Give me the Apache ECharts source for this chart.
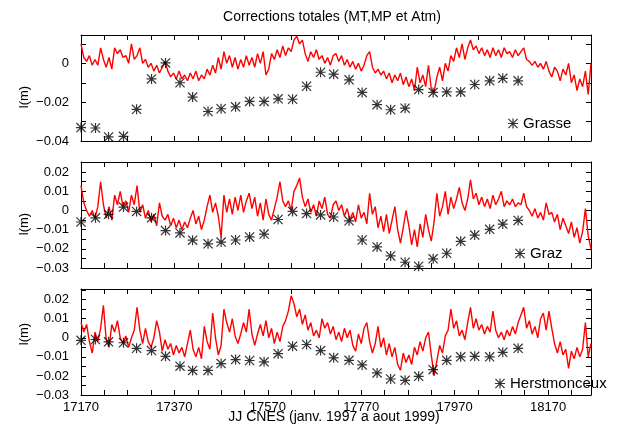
<!DOCTYPE html>
<html>
<head>
<meta charset="utf-8">
<title>Corrections totales (MT,MP et Atm)</title>
<script src="https://cdn.jsdelivr.net/npm/echarts@6/dist/echarts.min.js"></script>
<style>
  html, body { margin: 0; padding: 0; background: #fff; }
  #chart { width: 634px; height: 426px; }
</style>
</head>
<body>
<div id="chart"></div>
<script>
// daily corrections, every 6 days (mm)
const redStart = 17170
const redStep = 6

const grasseRed = [
  10, 3, 1, 4, -1, 2, -1, 8, 2, -2,
  3, -3, 8, 5, 7, 3, 4, 0, 10, 2,
  4, 8, 0, 2, -2, 0, -4, -1, -5, -2,
  1, -4, -7, -5, -8, -4, -8, -6, -9, -5,
  -8, -4, -9, -6, -8, -3, -6, -1, -5, 3,
  -3, 6, 0, 4, -2, 3, -3, 2, -2, 4,
  -1, 3, -2, 5, 0, 6, -6, -3, 5, 2,
  7, 3, 9, 4, 8, 6, 12, 14, 10, 12,
  5, 1, 6, 3, 7, 2, 4, 0, 3, -1,
  4, 5, 1, 4, -1, 2, -2, 1, -3, 0,
  -4, -1, 4, 6, -2, -5, -3, -6, -4, -8,
  -5, -10, -6, -9, -5, -11, -7, -12, -8, -14,
  -2, -10, -6, -12, -1, -13, -15, -7, -2, -9,
  0, -4, 4, 1, 8, 3, 10, 2, 8, 12,
  7, 9, 5, 8, 4, 7, 3, 8, 4, 7,
  3, 8, 5, 6, 3, 7, 4, 6, 8, 2,
  1, -1, 1, -2, 0, -3, 1, -4, -7, -2,
  -4, -9, -3, -6, 0, -10, -6, -14, -8, -12,
  -4, -16, 0
]

const grazRed = [
  13, 4, 0, -3, 0, -4, 2, 15, 3, -4,
  2, -5, 8, 3, 10, 2, 5, -1, 8, 3,
  13, -1, 3, -4, 0, -6, -2, -8, 4, -3,
  -5, -2, -8, -4, -9, -5, -10, -6, -9, -4,
  0, -7, -3, -10, -5, 2, 8, -1, 4, -3,
  -14, 8, -1, 6, -2, 7, 0, 8, -1, 5,
  9, 1, 7, -3, 4, -5, 6, -2, -5, 1,
  7, 15, 5, 2, 5, 0, 10, 13, 17, 7,
  2, 6, -1, 3, -3, 5, 1, 7, -2, -4,
  3, 5, 0, 3, -3, 1, -5, -1, -6, 3,
  -4, -1, -7, 9, -2, 2, -9, -3, -11, -2,
  -12, -5, 2, -10, -17, -9, 0, -8, -18, -10,
  -19, -7, -14, -2, -10, -16, -6, 9, -3, 2,
  10, -2, 7, 1, 6, 12, 4, 0, 6, 16,
  6, 9, 3, 7, 2, 6, 1, 8, 3, 6,
  10, 2, 5, 3, 6, 2, 4, 3, 9, 2,
  0, -3, 1, -4, -1, -5, 4, -2, -1, -6,
  -2, -10, -4, -8, -12, -6, -14, -9, -17, -11,
  1, -13, -20
]

const herstRed = [
  8, 3, 7, -2, -8, 3, -2, 5, 17, -1,
  -5, 7, 3, 9, 0, -3, 1, -5, 0, 4,
  16, 4, -3, 5, -2, -5, 0, 9, 3, -7,
  -1, -6, -3, -9, -4, -8, -5, -10, -3, 4,
  -6, -10, -5, -11, 6, -2, -6, 13, 0, -9,
  -4, 15, 8, 3, 10, 1, -3, 2, 8, 3,
  15, 2, -4, 2, 7, 1, 9, 0, 5, -3,
  3, -2, 6, 9, 14, 22, 18, 11, 15, 7,
  12, 4, 8, 1, 4, 0, 10, 5, 8, 2,
  6, -1, 3, -2, 5, 0, 4, -4, -7, 2,
  -3, 5, 8, -2, -8, -3, 6, -5, 0, -9,
  -3, -10, -5, -14, -17, -8, -13, -9, -14, -5,
  -9, -2, -7, 0, 3, -9, -20, -12, -4, -8,
  1, 4, 15, 5, 9, 1, 4, -1, 8, 16,
  5, 10, 4, 7, 2, 6, 3, 14, 4, 0,
  3, -1, 4, 1, 6, 2, 8, 12, 16, 5,
  9, 2, 6, 0, 10, 13, 4, 14, 5, -3,
  -8, -2, -9, -6, -16, -7, -11, -5, -10, -6,
  8, -10, -3
]

// monthly points (m)
const starDays = [
  17170, 17201, 17229, 17261, 17289, 17321, 17351, 17382, 17409, 17442,
  17470, 17501, 17531, 17562, 17592, 17623, 17653, 17683, 17711, 17744,
  17772, 17804, 17833, 17864, 17893, 17924, 17953, 17983, 18013, 18045,
  18073, 18106
]
const grasseStars = [
  -0.0331, -0.0333, -0.0379, -0.0376, -0.0237, -0.0080, 0.0002, -0.0100, -0.0174, -0.0248,
  -0.0234, -0.0224, -0.0196, -0.0196, -0.0183, -0.0185, -0.0118, -0.0046, -0.0056, -0.0085,
  -0.0150, -0.0213, -0.0239, -0.0231, -0.0135, -0.0150, -0.0147, -0.0147, -0.0109, -0.0090,
  -0.0077, -0.0090
]
const grazStars = [
  -0.0060, -0.0038, -0.0020, 0.0018, -0.0005, -0.0038, -0.0105, -0.0117, -0.0155, -0.0174,
  -0.0165, -0.0154, -0.0138, -0.0123, -0.0047, -0.0005, -0.0016, -0.0023, -0.0034, -0.0054,
  -0.0154, -0.0190, -0.0237, -0.0270, -0.0291, -0.0252, -0.0223, -0.0161, -0.0128, -0.0098,
  -0.0071, -0.0052
]
const herstStars = [
  -0.0013, -0.0009, -0.0021, -0.0026, -0.0055, -0.0067, -0.0097, -0.0149, -0.0171, -0.0171,
  -0.0135, -0.0114, -0.0119, -0.0126, -0.0083, -0.0044, -0.0035, -0.0067, -0.0105, -0.0118,
  -0.0142, -0.0184, -0.0216, -0.0223, -0.0202, -0.0167, -0.0118, -0.0100, -0.0097, -0.0100,
  -0.0076, -0.0055
]

const stations = ['Grasse', 'Graz', 'Herstmonceux']
const xTickLabels = [17170, 17370, 17570, 17770, 17970, 18170]

const FONT = '"Liberation Sans", Arial, Helvetica, sans-serif'
const STAR = 'path://M8.8,0h2.4v20h-2.4z M0,8.8h20v2.4h-20z M1.7,0L20,18.3L18.3,20L0,1.7z M18.3,0L20,1.7L1.7,20L0,18.3z'

// layout of the three panels
const panels = [
  { red: grasseRed, stars: grasseStars, top: 35, min: -0.04, max: 0.0146, interval: 0.01, labelStep: 0.02, legend: [508, 116], unit: 97 },
  { red: grazRed, stars: grazStars, top: 162, min: -0.03, max: 0.0253, interval: 0.005, labelStep: 0.01, legend: [515, 246], unit: 224 },
  { red: herstRed, stars: herstStars, top: 289, min: -0.03, max: 0.0256, interval: 0.005, labelStep: 0.01, legend: [495, 376], unit: 334 }
]

const axisLine = { show: true, onZero: false, lineStyle: { color: '#000', width: 1 } }
const axisTick = { show: true, inside: true, length: 5, lineStyle: { color: '#000', width: 1 } }

function yLabel (step) {
  return v => {
    const k = Math.round(v / step)
    if (Math.abs(k * step - v) > 1e-9) return ''
    const s = Number(v.toFixed(2))
    return s === 0 ? '0' : String(s).replace('-', '\u2212')
  }
}

const grid = []
const xAxis = []
const yAxis = []
const series = []
const legend = []
const graphic = []

panels.forEach((p, i) => {
  grid.push({ left: 81, right: 43, top: p.top, height: 106 })

  const xBase = {
    gridIndex: i,
    type: 'value',
    min: 17170,
    max: 18262,
    interval: 50,
    axisLine,
    axisTick,
    splitLine: { show: false }
  }
  xAxis.push(Object.assign({}, xBase, {
    position: 'bottom',
    axisLabel: {
      show: i === 2,
      margin: 6,
      color: '#000',
      fontFamily: FONT,
      fontSize: 13,
      formatter: v => xTickLabels.includes(v) ? String(v) : ''
    }
  }))
  xAxis.push(Object.assign({}, xBase, { position: 'top', axisLabel: { show: false } }))

  const yBase = {
    gridIndex: i,
    type: 'value',
    min: p.min,
    max: p.max,
    interval: p.interval,
    axisLine,
    axisTick,
    splitLine: { show: false }
  }
  yAxis.push(Object.assign({}, yBase, {
    position: 'left',
    axisLabel: {
      margin: 12,
      color: '#000',
      fontFamily: FONT,
      fontSize: 13,
      formatter: yLabel(p.labelStep)
    }
  }))
  yAxis.push(Object.assign({}, yBase, { position: 'right', axisLabel: { show: false } }))

  series.push({
    type: 'line',
    xAxisIndex: i * 2,
    yAxisIndex: i * 2,
    showSymbol: false,
    lineStyle: { color: '#ff0000', width: 1.4 },
    data: p.red.map((v, k) => [redStart + k * redStep, v / 1000]),
    z: 2
  })
  series.push({
    name: stations[i],
    type: 'scatter',
    xAxisIndex: i * 2,
    yAxisIndex: i * 2,
    symbol: STAR,
    symbolSize: 10,
    itemStyle: { color: '#000' },
    data: starDays.map((d, k) => [d, p.stars[k]]),
    z: 3
  })

  legend.push({
    data: [stations[i]],
    left: p.legend[0],
    top: p.legend[1],
    padding: 0,
    itemWidth: 10,
    itemHeight: 10,
    icon: STAR,
    selectedMode: false,
    textStyle: { color: '#000', fontFamily: FONT, fontSize: 15 }
  })

  graphic.push({
    type: 'text',
    x: 24,
    y: p.unit,
    rotation: Math.PI / 2,
    style: { text: 'l(m)', font: '13px ' + FONT, fill: '#000', textAlign: 'center', textVerticalAlign: 'middle' }
  })
})

graphic.push({
  type: 'text',
  x: 332,
  y: 17,
  style: { text: 'Corrections totales (MT,MP et Atm)', font: '14px ' + FONT, fill: '#000', textAlign: 'center', textVerticalAlign: 'middle' }
})
graphic.push({
  type: 'text',
  x: 334,
  y: 417,
  style: { text: 'JJ CNES (janv. 1997 a aout 1999)', font: '14px ' + FONT, fill: '#000', textAlign: 'center', textVerticalAlign: 'middle' }
})

const chart = echarts.init(document.getElementById('chart'), null, { renderer: 'canvas' })
chart.setOption({
  animation: false,
  backgroundColor: '#fff',
  grid,
  xAxis,
  yAxis,
  legend,
  graphic,
  series
})
</script>
</body>
</html>
